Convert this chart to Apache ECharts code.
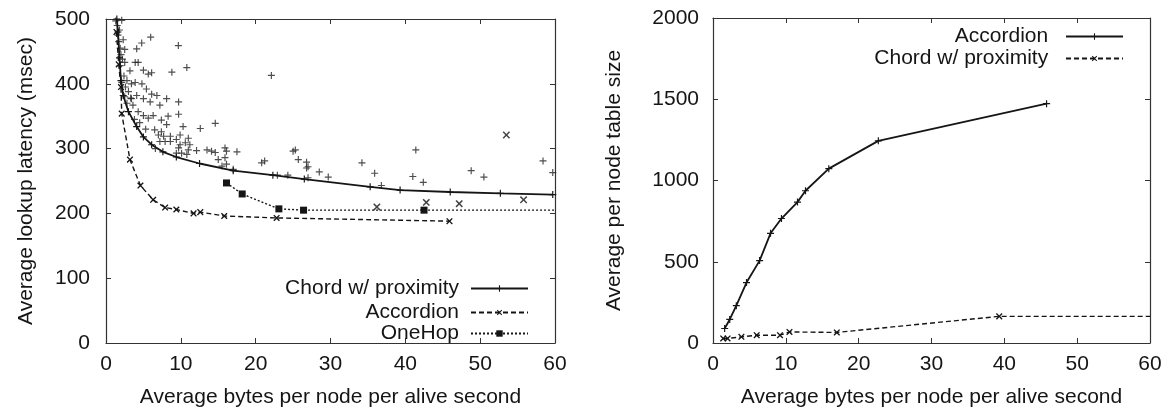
<!DOCTYPE html>
<html>
<head>
<meta charset="utf-8">
<script src="https://cdn.jsdelivr.net/npm/echarts@6/dist/echarts.min.js"></script>
<style>
  html, body { margin: 0; padding: 0; background: #fff; }
  #chart { width: 1168px; height: 413px; }
</style>
</head>
<body>
<div id="chart"></div>
<script>
// left panel: lookup latency vs bandwidth
const chordHull = [
  [1.45, 500], [1.6, 480], [1.8, 440], [2.0, 405], [2.3, 382], [3.0, 357], [4.1, 334],
  [5.0, 318], [6.1, 306], [7.6, 295], [9.4, 287], [12.5, 277], [17.0, 266], [22.3, 259],
  [26.5, 253], [35.3, 241], [39.3, 236], [46.0, 233], [52.7, 231], [59.7, 229]
]
const chordScatter = [
  [1.3, 497], [1.5, 490], [1.6, 475], [1.8, 483], [2.1, 498], [1.7, 465], [2.3, 468], [1.9, 455],
  [2.5, 453], [2.0, 445], [2.2, 438], [1.9, 428], [2.5, 433], [3.2, 420], [2.8, 405], [3.4, 400],
  [3.9, 402], [4.8, 400], [2.4, 412], [2.1, 402], [2.6, 395], [3.0, 388], [2.5, 380], [3.3, 378],
  [2.8, 370], [3.6, 367], [4.1, 382], [5.0, 377], [5.4, 392], [6.1, 384], [6.8, 382], [8.1, 377],
  [9.7, 372], [7.2, 367], [5.9, 372], [3.4, 377], [4.3, 357], [5.0, 351], [5.65, 347], [6.3, 351],
  [9.7, 353], [8.3, 350], [7.4, 344], [8.1, 337], [10.3, 334], [12.6, 331], [14.6, 339], [6.5, 329],
  [7.4, 326], [7.0, 321], [7.7, 319], [8.6, 319], [9.9, 321], [11.0, 316], [9.4, 314], [7.2, 311],
  [7.9, 311], [8.6, 311], [9.9, 306], [10.6, 309], [11.2, 306], [11.0, 298], [9.7, 301], [10.1, 293],
  [9.4, 293], [10.8, 291], [12.1, 297], [13.5, 298], [14.1, 296], [14.6, 294], [15.9, 301], [16.1, 296],
  [17.5, 295], [15.9, 286], [15.0, 283], [16.1, 276], [15.5, 273], [17.0, 268], [20.8, 278], [21.2, 281],
  [25.0, 296], [25.3, 298], [25.7, 283], [26.8, 279], [27.0, 272], [26.8, 270], [28.5, 264], [29.7, 256],
  [27.0, 255], [34.2, 278], [35.9, 262], [36.8, 243], [41.4, 298], [41.0, 257], [42.4, 248], [48.8, 266],
  [50.5, 256], [58.4, 281], [59.7, 263], [22.1, 413], [5.97, 472], [4.77, 463], [4.1, 454], [9.67, 459],
  [3.9, 433], [4.3, 433], [5.0, 421], [5.65, 415], [6.1, 417], [8.8, 418], [10.8, 425], [22.9, 259],
  [24.3, 259], [4.5, 340], [5.3, 330], [3.8, 345], [6.6, 300]
]
const accordionLeft = [
  [1.4, 480], [1.7, 430], [2.0, 395], [2.1, 354], [3.2, 283], [4.6, 243], [6.3, 221], [7.9, 209],
  [9.4, 206], [11.7, 200], [12.6, 202], [15.8, 196], [22.8, 193], [45.9, 188]
]
const accordionExtra = [[36.2, 210], [42.8, 217], [47.2, 215], [55.8, 221], [53.5, 321]]
const oneHop = [[16.1, 247], [18.2, 230], [23.1, 207], [26.4, 205], [42.5, 205], [60, 205]]

// right panel: routing table size vs bandwidth
const accordionRight = [
  [1.6, 89], [2.3, 145], [3.2, 230], [4.6, 372], [6.4, 507], [7.9, 675], [9.4, 766], [11.6, 867],
  [12.7, 937], [15.9, 1073], [22.7, 1244], [45.8, 1473]
]
const chordRight = [
  [1.4, 28], [2.0, 28], [3.9, 38], [6.0, 48], [9.2, 48], [10.5, 68], [17.0, 65], [39.3, 164], [60, 164]
]

const xTicks = [0, 60, 10]
const yTicksLeft = [0, 500, 100]
const yTicksRight = [0, 2000, 500]

const ink = '#151515'
const font = 'Liberation Sans'
const fontSize = 21
const plus = 'path://M5,0H7V5H12V7H7V12H5V7H0V5H5Z'

const axisBase = (t) => ({
  type: 'value', min: t[0], max: t[1], interval: t[2],
  axisLine: { show: true, onZero: false, lineStyle: { color: '#333', width: 1.2 } },
  axisTick: { show: true, inside: true, length: 5, lineStyle: { color: '#333' } },
  splitLine: { show: false }
})
const labelStyle = { fontFamily: font, fontSize, color: ink, formatter: (v) => String(v) }
const mainX = (gi) => Object.assign(axisBase(xTicks), {
  gridIndex: gi, position: 'bottom',
  name: 'Average bytes per node per alive second', nameLocation: 'middle', nameGap: 44,
  nameTextStyle: { fontFamily: font, fontSize, color: ink },
  axisLabel: Object.assign({ margin: 11 }, labelStyle)
})
const mirrorX = (gi) => Object.assign(axisBase(xTicks), { gridIndex: gi, position: 'top', axisLabel: { show: false } })
const mainY = (gi, t, name, gap, margin) => Object.assign(axisBase(t), {
  gridIndex: gi, position: 'left',
  name, nameLocation: 'middle', nameGap: gap,
  nameTextStyle: { fontFamily: font, fontSize, color: ink },
  axisLabel: Object.assign({ margin }, labelStyle)
})
const mirrorY = (gi, t) => Object.assign(axisBase(t), { gridIndex: gi, position: 'right', axisLabel: { show: false } })

const legendAt = (name, right, top) => ({
  data: [name], orient: 'vertical', align: 'right', right, top,
  itemWidth: 57, itemHeight: 8,
  textStyle: { fontFamily: font, fontSize, color: ink, padding: [0, 7, 0, 0] }
})

const chart = echarts.init(document.getElementById('chart'))
chart.setOption({
  animation: false,
  backgroundColor: '#fff',
  grid: [
    { left: 106, top: 19, width: 449, height: 329 },
    { left: 713, top: 18, width: 437, height: 330 }
  ],
  xAxis: [mainX(0), mirrorX(0), mainX(1), mirrorX(1)],
  yAxis: [
    mainY(0, yTicksLeft, 'Average lookup latency (msec)', 69, 16),
    mirrorY(0, yTicksLeft),
    mainY(1, yTicksRight, 'Average per node table size', 88, 14),
    mirrorY(1, yTicksRight)
  ],
  legend: [
    legendAt('Chord w/ proximity', 634, 273),
    legendAt('Accordion', 634, 297),
    legendAt('OneHop', 634, 318),
    legendAt('Accordion ', 39, 21),
    legendAt('Chord w/ proximity ', 39, 43)
  ],
  series: [
    {
      name: 'Chord-scatter', type: 'scatter', xAxisIndex: 0, yAxisIndex: 0,
      data: chordScatter, symbol: plus, symbolSize: 7, itemStyle: { color: '#222' }, silent: true
    },
    {
      name: 'Chord w/ proximity', type: 'line', xAxisIndex: 0, yAxisIndex: 0, data: chordHull,
      symbol: plus, symbolSize: 7, showAllSymbol: true,
      lineStyle: { color: ink, width: 1.8 }, itemStyle: { color: ink }
    },
    {
      name: 'Accordion', type: 'line', xAxisIndex: 0, yAxisIndex: 0, data: accordionLeft,
      symbol: plus, symbolRotate: 45, symbolSize: 8, showAllSymbol: true,
      lineStyle: { color: ink, width: 1.4, type: [5, 3] }, itemStyle: { color: ink }
    },
    {
      name: 'Accordion-extra', type: 'scatter', xAxisIndex: 0, yAxisIndex: 0, data: accordionExtra,
      symbol: plus, symbolRotate: 45, symbolSize: 9, itemStyle: { color: ink }, silent: true
    },
    {
      name: 'OneHop', type: 'line', xAxisIndex: 0, yAxisIndex: 0,
      data: oneHop.map((p, i) => ({ value: p, symbol: i === oneHop.length - 1 ? 'none' : 'rect' })),
      symbol: 'rect', symbolSize: 7, showAllSymbol: true,
      lineStyle: { color: ink, width: 1.4, type: [2, 2] }, itemStyle: { color: ink }
    },
    {
      name: 'Accordion ', type: 'line', xAxisIndex: 2, yAxisIndex: 2, data: accordionRight,
      symbol: plus, symbolSize: 7, showAllSymbol: true,
      lineStyle: { color: ink, width: 1.8 }, itemStyle: { color: ink }
    },
    {
      name: 'Chord w/ proximity ', type: 'line', xAxisIndex: 2, yAxisIndex: 2,
      data: chordRight.map((p, i) => ({ value: p, symbol: i === chordRight.length - 1 ? 'none' : plus })),
      symbol: plus, symbolRotate: 45, symbolSize: 8, showAllSymbol: true,
      lineStyle: { color: ink, width: 1.4, type: [5, 3] }, itemStyle: { color: ink }
    }
  ]
})
</script>
</body>
</html>
